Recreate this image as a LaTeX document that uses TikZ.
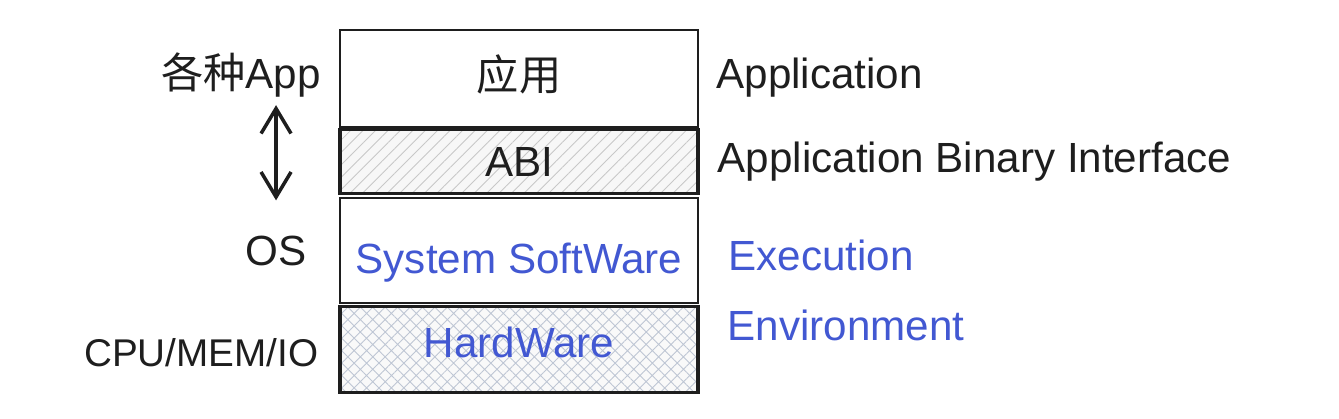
\documentclass[tikz,border=0pt]{standalone}
\usepackage{fontspec}
\setmainfont{Liberation Sans}
\newfontfamily\cjk{Noto Sans CJK SC}
\usetikzlibrary{arrows.meta,positioning,patterns.meta}
\definecolor{inkblack}{RGB}{30,30,30}
\definecolor{eeblue}{RGB}{66,88,210}
\definecolor{hatchgray}{RGB}{200,200,200}
\definecolor{crossgray}{RGB}{190,198,212}
\tikzset{
  layer/.style={draw=inkblack, line width=1.3pt, minimum width=71.6mm,
    font=\fontsize{24}{29}\selectfont, text=inkblack, inner sep=0pt,
    text height=17pt, text depth=5pt},
  abiband/.style={layer, line width=1.9pt, preaction={fill=gray!6},
    pattern={Lines[angle=45,distance=5pt,line width=0.5pt]}, pattern color=hatchgray},
  hwband/.style={layer, line width=1.9pt, preaction={fill=gray!5},
    pattern={Hatch[angle=45,distance=5pt,line width=0.5pt]}, pattern color=crossgray},
  tag/.style={font=\fontsize{24}{29}\selectfont, text=inkblack, inner sep=0pt},
  bluetag/.style={tag, text=eeblue},
  updown/.style={{Straight Barb[length=5mm,width=6mm]}-{Straight Barb[length=5mm,width=6mm]},
    line width=2pt, draw=inkblack}
}
\begin{document}
\begin{tikzpicture}[node distance=3mm]
  \useasboundingbox (0,0) rectangle (26.78,8.38);

  % the stack
  \node[layer, minimum height=19.4mm, text depth=3.8pt] (app) at (10.38,6.81) {\cjk 应用};
  \node[abiband, minimum height=12.8mm, text depth=0pt, below=0.2mm of app] (abi) {ABI};
  \node[layer, minimum height=21mm, text height=31pt, below=0.6mm of abi, text=eeblue] (sys) {System SoftWare};
  \node[hwband, minimum height=17.2mm, text depth=7.8pt, below=0.4mm of sys, text=eeblue] (hw) {HardWare};

  % left side
  \node[tag, left=3.6mm of app, yshift=0.7mm] (apps) {{\cjk 各种}App};
  \node[tag, left=6.4mm of sys] (os) {OS};
  \node[tag, left=4.2mm of hw, yshift=-0.6mm, font=\fontsize{22}{27}\selectfont] (cpu) {CPU/MEM/IO};
  \draw[updown] ([yshift=-1.5mm]os.north |- apps.south) -- ([yshift=7mm]os.north);

  % right side
  \node[tag, right=3.4mm of app, yshift=0.2mm] (appname) {Application};
  \node[tag, right=3.8mm of abi] (abiname) {Application Binary Interface};
  \node[bluetag, right=5.8mm of sys, yshift=-0.9mm] (exec) {Execution};
  \node[bluetag, right=5.8mm of hw, yshift=4.9mm] (env) {Environment};
\end{tikzpicture}
\end{document}
